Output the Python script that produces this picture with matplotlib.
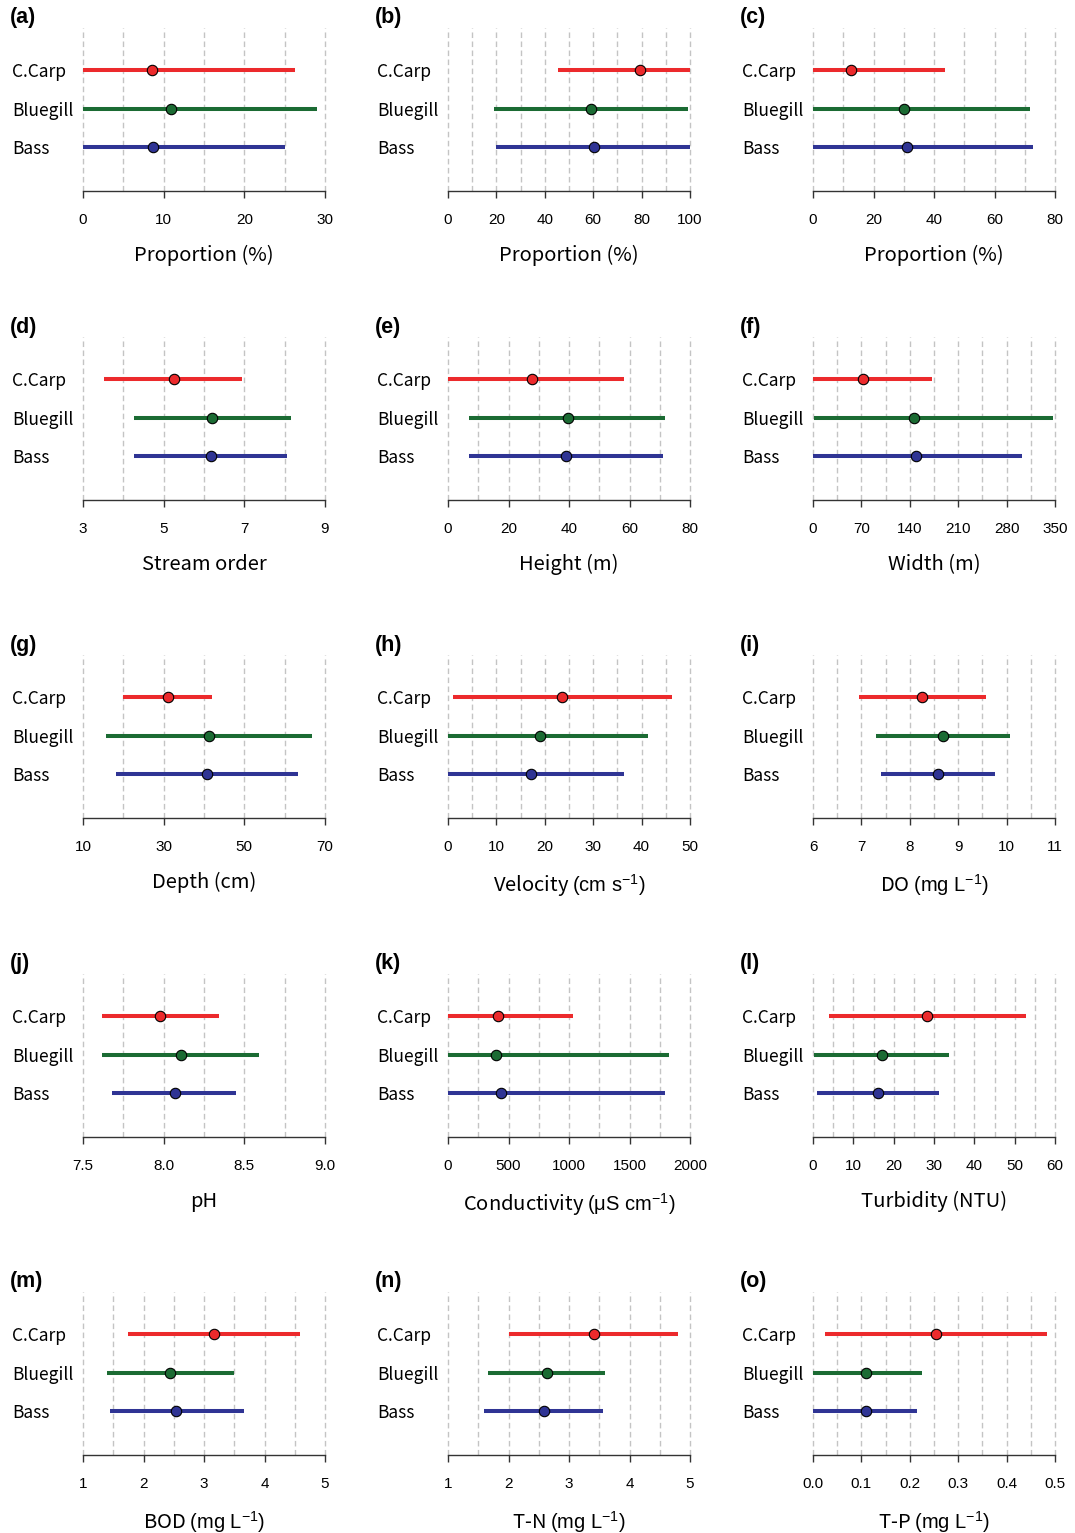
import numpy as np
import matplotlib
matplotlib.use("Agg")
import matplotlib.pyplot as plt
from matplotlib.ticker import FixedLocator, FormatStrFormatter

plt.rcParams['font.family'] = ['Noto Sans CJK KR', 'DejaVu Sans']
plt.rcParams['mathtext.fontset'] = 'custom'
plt.rcParams['mathtext.rm'] = 'Liberation Sans'
plt.rcParams['mathtext.it'] = 'Liberation Sans:italic'

species = ["C.Carp", "Bluegill", "Bass"]
colors = ["#ec2a2c", "#1b6b33", "#2f3494"]

panels = ["(a)", "(b)", "(c)", "(d)", "(e)", "(f)", "(g)", "(h)", "(i)",
          "(j)", "(k)", "(l)", "(m)", "(n)", "(o)"]

xlabels = ["Proportion (%)", "Proportion (%)", "Proportion (%)",
           "Stream order", "Height (m)", "Width (m)",
           "Depth (cm)", r"Velocity $\mathrm{(cm\ s^{-1})}$", r"DO $\mathrm{(mg\ L^{-1})}$",
           "pH", r"Conductivity $\mathrm{(\mu S\ cm^{-1})}$", "Turbidity (NTU)",
           r"BOD $\mathrm{(mg\ L^{-1})}$", r"T-N $\mathrm{(mg\ L^{-1})}$", r"T-P $\mathrm{(mg\ L^{-1})}$"]

# axis limits, major tick step, grid step
xlims = [(0, 30), (0, 100), (0, 80), (3, 9), (0, 80), (0, 350), (10, 70), (0, 50),
         (6, 11), (7.5, 9.0), (0, 2000), (0, 60), (1, 5), (1, 5), (0, 0.5)]
tick_steps = [10, 20, 20, 2, 20, 70, 20, 10, 1, 0.5, 500, 10, 1, 1, 0.1]
grid_steps = [5, 10, 10, 1, 10, 35, 10, 5, 0.5, 0.25, 250, 5, 0.5, 0.5, 0.05]
tick_fmt = ["%g"] * 9 + ["%.1f", "%g", "%g", "%g", "%g", "%.1f"]

# per panel: (min, max, point) for C.Carp, Bluegill, Bass
ccarp_min = [0, 45.5, 0, 3.52, 0, 0, 19.8, 1.0, 6.95, 7.62, 0, 3.9, 1.75, 2.01, 0.025]
ccarp_max = [26.3, 100, 43.6, 6.94, 58.2, 172, 41.9, 46.3, 9.57, 8.34, 1033, 52.9, 4.59, 4.80, 0.483]
ccarp_pt = [8.55, 79.3, 12.6, 5.26, 27.8, 72.7, 31.0, 23.6, 8.26, 7.98, 413, 28.3, 3.17, 3.41, 0.254]

blue_min = [0, 19, 0, 4.26, 6.9, 1, 15.6, 0, 7.31, 7.62, 0, 0.2, 1.40, 1.66, 0.0]
blue_max = [29.0, 99.2, 71.7, 8.16, 71.7, 347, 66.8, 41.3, 10.06, 8.59, 1826, 33.8, 3.50, 3.60, 0.225]
blue_pt = [10.9, 59.1, 30.1, 6.20, 39.7, 146.5, 41.3, 19.0, 8.69, 8.11, 397, 17.1, 2.44, 2.64, 0.109]

bass_min = [0, 19.8, 0, 4.26, 6.9, 0, 18.2, 0, 7.40, 7.68, 0, 1.0, 1.44, 1.60, 0.0]
bass_max = [25.0, 100, 72.7, 8.06, 71.1, 302.7, 63.2, 36.4, 9.77, 8.45, 1793, 31.2, 3.66, 3.56, 0.215]
bass_pt = [8.7, 60.3, 31.1, 6.17, 39.0, 148.6, 40.8, 17.1, 8.59, 8.07, 438, 16.2, 2.54, 2.59, 0.109]

W, H = 1075, 1533
fig = plt.figure(figsize=(W / 100, H / 100), dpi=100)

col_left = [83, 448, 813]
row_spine = [191, 500, 818, 1137, 1455]
ax_w, ax_h = 242, 163

for i in range(15):
    r, c = divmod(i, 3)
    x0 = col_left[c]
    y0 = row_spine[r]
    ax = fig.add_axes([x0 / W, 1 - y0 / H, ax_w / W, ax_h / H])

    mins = [ccarp_min[i], blue_min[i], bass_min[i]]
    maxs = [ccarp_max[i], blue_max[i], bass_max[i]]
    pts = [ccarp_pt[i], blue_pt[i], bass_pt[i]]
    ys = [3, 2, 1]

    lo, hi = xlims[i]
    for g in np.arange(lo, hi + grid_steps[i] / 2, grid_steps[i]):
        ax.axvline(g, color="#c4c4c4", lw=1.0, ls=(0, (4, 2.5)), zorder=0, clip_on=False)

    for y, a, b, p, col in zip(ys, mins, maxs, pts, colors):
        ax.plot([a, b], [y, y], color=col, lw=2.9, solid_capstyle="butt", zorder=2)
        ax.plot([p], [y], "o", color=col, markeredgecolor="black", markeredgewidth=0.8,
                markersize=7.5, zorder=3)

    ax.set_xlim(lo, hi)
    ax.set_ylim(-0.14, 4.09)
    ax.xaxis.set_major_locator(FixedLocator(np.arange(lo, hi + tick_steps[i] / 2, tick_steps[i])))
    ax.xaxis.set_major_formatter(FormatStrFormatter(tick_fmt[i]))
    ax.set_yticks(ys)
    ax.set_yticklabels(species)
    for lab in ax.get_yticklabels():
        lab.set_horizontalalignment("left")
    ax.tick_params(axis="y", length=0, pad=51, labelsize=12.5)
    ax.tick_params(axis="x", length=5, width=1, color="#333333", pad=11, labelsize=11)
    for lab in ax.get_xticklabels():
        lab.set_fontfamily(["Liberation Sans", "DejaVu Sans"])

    for s in ["top", "left", "right"]:
        ax.spines[s].set_visible(False)
    ax.spines["bottom"].set_color("#333333")
    ax.spines["bottom"].set_linewidth(1.0)
    ax.set_facecolor("none")

    ax.set_xlabel(xlabels[i], fontsize=14.5, labelpad=13)

    fig.text((x0 - 73) / W, 1 - (y0 - 173) / H, panels[i], fontsize=15.5,
             fontweight="bold", ha="left", va="center",
             family=["Liberation Sans", "DejaVu Sans"])

fig.savefig("out.png", dpi=100)
